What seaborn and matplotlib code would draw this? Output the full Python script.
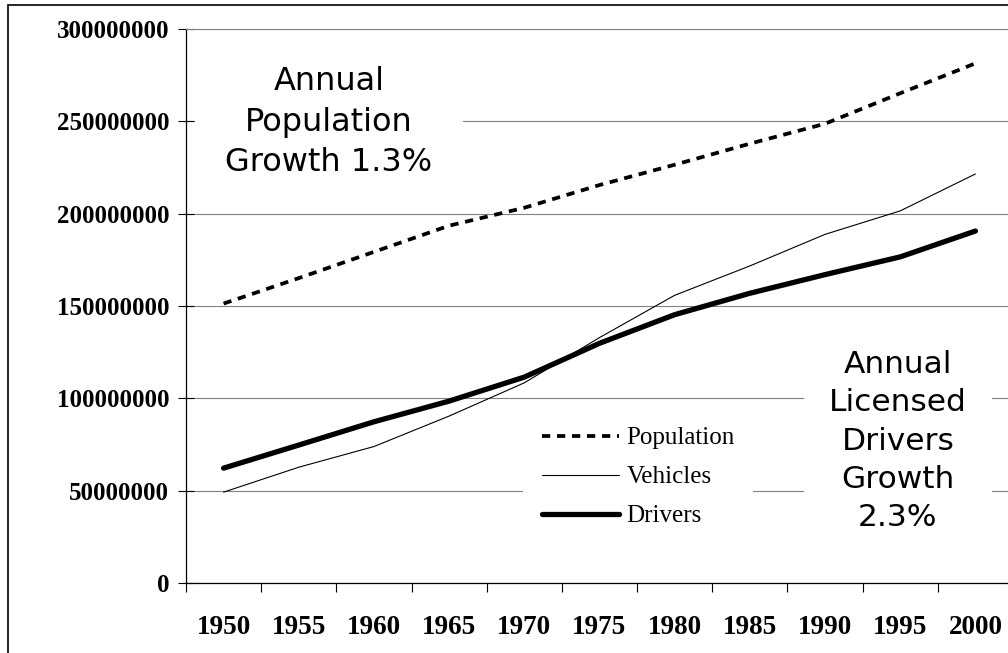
import numpy as np
import pandas as pd
import matplotlib
matplotlib.use('Agg')
import matplotlib.pyplot as plt
import seaborn as sns
from matplotlib.patches import Rectangle

years = ['1950', '1955', '1960', '1965', '1970', '1975', '1980', '1985', '1990', '1995', '2000']
population = [151.3e6, 165.1e6, 179.3e6, 193.5e6, 203.2e6, 215.5e6, 226.5e6, 237.9e6, 248.7e6, 265.2e6, 281.4e6]
vehicles = [49.2e6, 62.7e6, 73.9e6, 90.4e6, 108.4e6, 132.9e6, 155.8e6, 171.7e6, 188.8e6, 201.5e6, 221.5e6]
drivers = [62.2e6, 74.7e6, 87.3e6, 98.5e6, 111.5e6, 129.8e6, 145.3e6, 156.9e6, 167.0e6, 176.6e6, 190.6e6]
y_ticks = [0, 50000000, 100000000, 150000000, 200000000, 250000000, 300000000]

sns.set_theme(style='white')
plt.rcParams['font.family'] = ['Liberation Serif', 'DejaVu Serif']
plt.rcParams['text.color'] = 'black'
plt.rcParams['xtick.color'] = 'black'
plt.rcParams['ytick.color'] = 'black'

W, H = 1008, 653
fig = plt.figure(figsize=(W / 100, H / 100), dpi=100)
ax = fig.add_axes([186 / W, (H - 583) / H, 827 / W, 554 / H])

df = pd.DataFrame({'Year': years, 'Population': population,
                   'Vehicles': vehicles, 'Drivers': drivers})

sns.lineplot(data=df, x='Year', y='Population', ax=ax, color='black', lw=2.7,
             linestyle=(0, (2.2, 1.8)), label='Population', sort=False)
sns.lineplot(data=df, x='Year', y='Vehicles', ax=ax, color='black', lw=0.8,
             label='Vehicles', sort=False)
sns.lineplot(data=df, x='Year', y='Drivers', ax=ax, color='black', lw=3.8,
             solid_capstyle='round', label='Drivers', sort=False)

ax.set_ylim(0, 300000000)
ax.set_xlim(-0.5, 10.5)
ax.set_yticks(y_ticks)
ax.set_yticklabels([str(v) for v in y_ticks], fontweight='bold', fontsize=18)
ax.set_xticks(np.arange(-0.5, 11, 1))
ax.set_xticklabels([])
ax.set_xticks(np.arange(len(years)), minor=True)
ax.set_xticklabels(years, minor=True, fontweight='bold', fontsize=19.5)
ax.tick_params(axis='x', which='major', bottom=True, direction='out', length=6.5,
               width=0.8, color='black')
ax.tick_params(axis='x', which='minor', bottom=True, length=0, pad=23, labelcolor='black')
ax.tick_params(axis='y', left=True, direction='inout', length=12, width=0.8,
               color='black', pad=6, labelcolor='black')
ax.set_xlabel('')
ax.set_ylabel('')

ax.yaxis.grid(True, color='#808080', lw=0.8)
ax.set_axisbelow(True)
for s in ['left', 'bottom']:
    ax.spines[s].set_color('black')
    ax.spines[s].set_linewidth(0.9)
ax.spines['top'].set_color('#808080')
ax.spines['top'].set_linewidth(0.8)
ax.spines['right'].set_visible(False)

leg = ax.legend(loc='center left', bbox_to_anchor=(523 / W, 1 - 477 / H),
                bbox_transform=fig.transFigure, frameon=True, fancybox=False,
                facecolor='white', edgecolor='none', framealpha=1,
                fontsize=18, handlelength=3.1, handletextpad=0.28,
                labelspacing=0.66, borderpad=0.75, borderaxespad=0)
for t in leg.get_texts():
    t.set_color('black')

fig.text(329 / W, 1 - 122 / H, 'Annual\nPopulation\nGrowth 1.3%', family='DejaVu Sans',
         fontsize=23, ha='center', va='center', multialignment='center',
         linespacing=1.38, color='black',
         bbox=dict(boxstyle='square,pad=0.95', facecolor='white', edgecolor='none'))
fig.text(898 / W, 1 - 441 / H, 'Annual\nLicensed\nDrivers\nGrowth\n2.3%', family='DejaVu Sans',
         fontsize=22.5, ha='center', va='center', multialignment='center',
         linespacing=1.4, color='black',
         bbox=dict(boxstyle='square,pad=0.8', facecolor='white', edgecolor='none'))

fig.patches.append(Rectangle((8 / W, -0.1), 1.1, 1 - 5 / H + 0.1, transform=fig.transFigure,
                             fill=False, edgecolor='black', lw=1.2))

fig.savefig('out.png', dpi=100)
